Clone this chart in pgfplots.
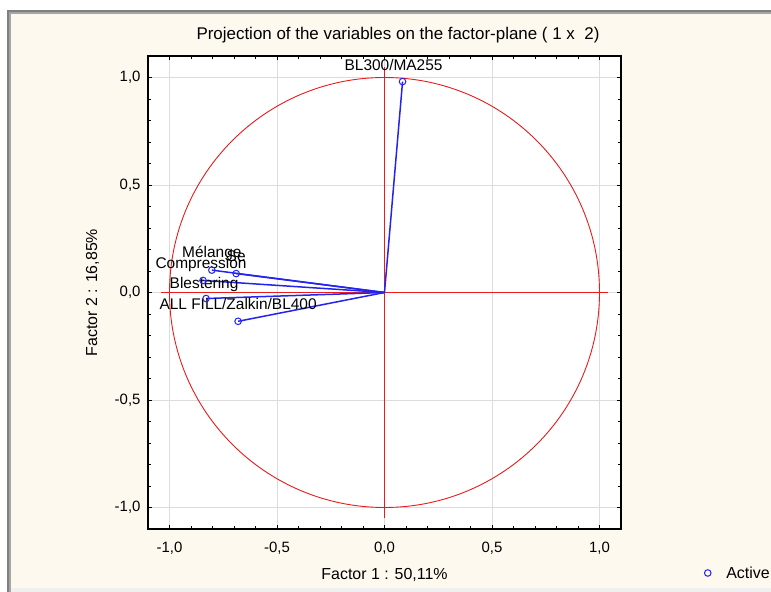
\documentclass[border=0pt]{standalone}
\usepackage{pgfplots}
\pgfplotsset{compat=1.18}
\usepackage{fontspec}
\setmainfont{Liberation Sans}
\definecolor{cream}{HTML}{FEF9EF}
\definecolor{frameg}{HTML}{7F7F7F}
\definecolor{pblue}{HTML}{2424EE}
\definecolor{pred}{HTML}{E81C1C}
\definecolor{gridg}{HTML}{DCDCDC}
\begin{document}
\begin{tikzpicture}
\useasboundingbox (0bp,0bp) rectangle (771bp,592bp);
\fill[white] (0bp,0bp) rectangle (771bp,592bp);
\fill[frameg] (7bp,-5bp) rectangle (780bp,582bp);
\fill[black!35] (9bp,-5bp) rectangle (780bp,580bp);
\fill[cream] (11bp,-5bp) rectangle (780bp,578bp);
\fill[black!6] (11bp,0bp) rectangle (771bp,4bp);
\node[font=\fontsize{17}{19}\selectfont] at (398bp,557bp) {Projection of the variables on the factor-plane (\ 1 x\ \ 2)};
\begin{axis}[
  at={(148bp,63bp)}, anchor=south west,
  scale only axis, width=473bp, height=473bp,
  xmin=-1.1, xmax=1.1, ymin=-1.1, ymax=1.1,
  axis background/.style={fill=white},
  xtick={-1,-0.5,0,0.5,1}, ytick={-1,-0.5,0,0.5,1},
  minor tick num=4,
  tick align=inside, tick pos=both,
  major tick length=4bp, minor tick length=3bp,
  every tick/.style={black, line width=0.8bp},
  grid=major, major grid style={draw=gridg, line width=0.8bp},
  axis line style={line width=1.3bp},
  ticklabel style={font=\fontsize{15}{17}\selectfont},
  xticklabel style={yshift=-10bp},
  yticklabel style={xshift=-4bp},
  /pgf/number format/.cd, fixed, fixed zerofill, precision=1, use comma, assume math mode=true,
  /pgfplots/.cd,
  xlabel={Factor 1 : 50,11\%},
  ylabel={Factor 2 : 16,85\%},
  every axis x label/.style={at={(axis description cs:0.5,-0.097)}, anchor=center, font=\fontsize{16}{18}\selectfont},
  every axis y label/.style={at={(axis description cs:-0.117,0.5)}, anchor=center, rotate=90, font=\fontsize{16}{18}\selectfont},
  legend style={at={(rel axis cs:1.176,-0.093)}, anchor=west, draw=none, fill=none, font=\fontsize{16}{18}\selectfont, inner sep=0pt},
  legend cell align=left,
  clip=false,
]
\addplot[pred, line width=0.9bp, forget plot] coordinates {(-1.04,0) (1.04,0)};
\addplot[pred, line width=0.9bp, forget plot] coordinates {(0,-1.05) (0,1.05)};
\draw[pred, line width=0.9bp] (axis cs:0,0) ellipse [x radius=1, y radius=1];
\addplot[pblue, line width=1.5bp, forget plot] coordinates {(0,0) (0.084,0.981)};
\addplot[pblue, line width=1.5bp, forget plot] coordinates {(0,0) (-0.803,0.104)};
\addplot[pblue, line width=1.5bp, forget plot] coordinates {(0,0) (-0.690,0.088)};
\addplot[pblue, line width=1.5bp, forget plot] coordinates {(0,0) (-0.844,0.056)};
\addplot[pblue, line width=1.5bp, forget plot] coordinates {(0,0) (-0.830,-0.028)};
\addplot[pblue, line width=1.5bp, forget plot] coordinates {(0,0) (-0.681,-0.134)};
\addplot[only marks, mark=o, pblue, mark size=3.3bp, mark options={line width=1bp}] coordinates {
  (0.084,0.981) (-0.803,0.104) (-0.690,0.088) (-0.844,0.056) (-0.830,-0.028) (-0.681,-0.134)};
\addlegendentry{\ \ \ Active}
\begin{scope}[every node/.style={font=\fontsize{15.5}{17}\selectfont, inner sep=0pt}]
\node at (axis cs:0.084,0.981) [yshift=17bp, xshift=-9bp] {BL300/MA255};
\node at (axis cs:-0.803,0.104) [yshift=17bp] {Mélange};
\node at (axis cs:-0.690,0.088) [yshift=17bp] {Se};
\node at (axis cs:-0.844,0.056) [yshift=16bp, xshift=-2bp] {Compression};
\node at (axis cs:-0.830,-0.028) [yshift=14bp, xshift=-2bp] {Blestering};
\node at (axis cs:-0.681,-0.134) [yshift=17bp] {ALL FILL/Zalkin/BL400};
\end{scope}
\end{axis}
\end{tikzpicture}
\end{document}
